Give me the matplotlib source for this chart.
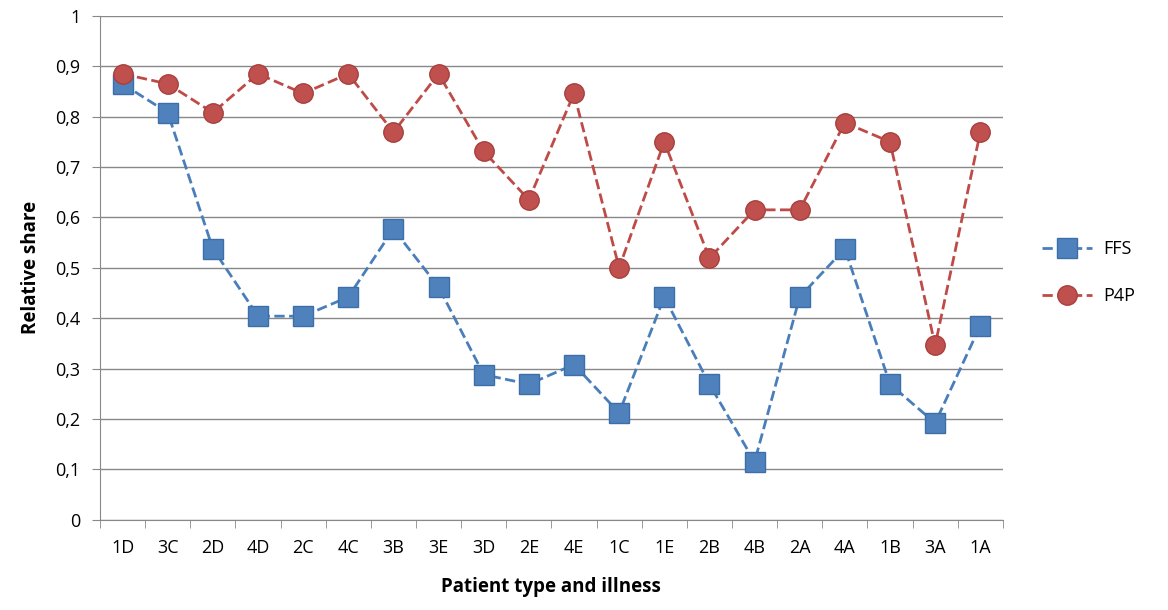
import numpy as np
import matplotlib.pyplot as plt

categories = ['1D', '3C', '2D', '4D', '2C', '4C', '3B', '3E', '3D', '2E',
              '4E', '1C', '1E', '2B', '4B', '2A', '4A', '1B', '3A', '1A']
ffs = [0.865, 0.808, 0.538, 0.404, 0.404, 0.442, 0.577, 0.462, 0.288, 0.269,
       0.308, 0.212, 0.442, 0.269, 0.115, 0.442, 0.538, 0.269, 0.192, 0.385]
p4p = [0.885, 0.865, 0.808, 0.885, 0.846, 0.885, 0.769, 0.885, 0.731, 0.635,
       0.846, 0.500, 0.750, 0.519, 0.615, 0.615, 0.788, 0.750, 0.346, 0.769]

plt.rcParams['font.family'] = ['Open Sans', 'DejaVu Sans']

fig = plt.figure(figsize=(11.68, 6.10), dpi=100)
ax = fig.add_axes([0.0856, 0.148, 0.773, 0.826])

x = np.arange(len(categories))
ax.plot(x, ffs, '--s', color='#4a7ebb', markerfacecolor='#4f81bd', markeredgecolor='#3c6fa8',
        markersize=14, linewidth=2, label='FFS')
ax.plot(x, p4p, '--o', color='#be4b48', markerfacecolor='#c0504d', markeredgecolor='#a8403d',
        markersize=14, linewidth=2, label='P4P')

ax.set_xlim(-0.5, len(categories) - 0.5)
ax.set_ylim(0, 1)
ax.set_yticks(np.arange(0, 1.01, 0.1))
ax.set_yticklabels([f'{v:.1f}'.replace('.', ',') if v > 0 and v < 1 else f'{v:.0f}'
                    for v in np.arange(0, 1.01, 0.1)], fontsize=13)
ax.set_xticks(x)
ax.set_xticklabels(categories, fontsize=13)
ax.set_xticks(np.arange(-0.5, len(categories), 1), minor=True)
ax.tick_params(axis='x', which='major', length=0, pad=14)
ax.tick_params(axis='x', which='minor', length=6, color='#888888')
ax.tick_params(axis='y', length=6, color='#888888', pad=8)
ax.grid(axis='y', color='#888888', linewidth=1)
ax.set_axisbelow(True)
for s in ['top', 'right']:
    ax.spines[s].set_visible(False)
for s in ['left', 'bottom']:
    ax.spines[s].set_color('#888888')

ax.set_xlabel('Patient type and illness', fontsize=13.5, fontweight='bold', labelpad=14)
ax.set_ylabel('Relative share', fontsize=13.5, fontweight='bold', labelpad=10)

ax.legend(loc='center left', bbox_to_anchor=(1.025, 0.49), frameon=False, fontsize=13,
          handlelength=2.8, labelspacing=1.6, handletextpad=0.6)

fig.savefig('out.png')
